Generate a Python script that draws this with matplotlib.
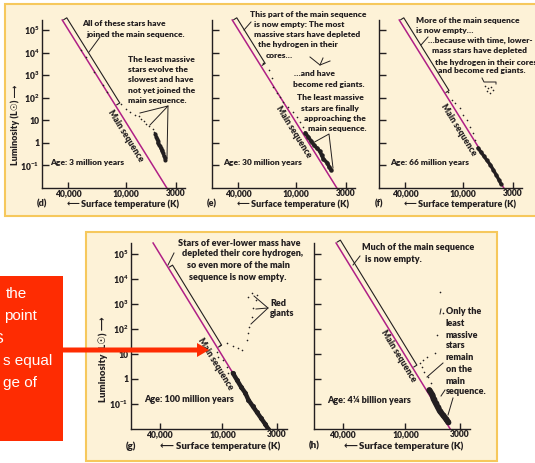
import matplotlib
matplotlib.use('Agg')
import matplotlib.pyplot as plt
import numpy as np
from matplotlib.patches import Rectangle, FancyArrow

plt.rcParams['font.family'] = ['Lato', 'DejaVu Sans']
plt.rcParams['font.weight'] = 800
plt.rcParams['mathtext.fontset'] = 'custom'
plt.rcParams['mathtext.rm'] = 'Lato:weight=800'
plt.rcParams['mathtext.it'] = 'Lato:weight=800'
plt.rcParams['mathtext.bf'] = 'Lato:weight=800'

# ticks
temp_ticks = [40000, 10000, 3000]
temp_labels = ['40,000', '10,000', '3000']
lum_ticks = [5, 4, 3, 2, 1, 0, -1]
lum_labels = ['$10^5$', '$10^4$', '$10^3$', '$10^2$', '10', '1', '$10^{-1}$']

# main sequence (log T, log L)
ms_logT = [4.665, 3.57]
ms_logL = [5.44, -2.0]

# (d) 3 million years
d_ms_logT = [4.47, 4.42, 4.33, 4.24, 4.20]
d_ms_logL = [4.11, 3.80, 3.14, 2.56, 2.25]
d_pre_logT = [4.05, 4.00, 3.96, 3.90, 3.86, 3.84, 3.81, 3.79, 3.76, 3.72, 3.70]
d_pre_logL = [1.72, 1.50, 1.37, 1.23, 1.19, 1.06, 0.97, 0.83, 0.75, 0.61, 0.48]
d_clump_logT = [3.69, 3.68, 3.67, 3.66, 3.665, 3.65, 3.64, 3.635, 3.625, 3.62, 3.61, 3.60, 3.59, 3.585]
d_clump_logL = [0.39, 0.26, 0.17, 0.08, -0.01, -0.10, -0.14, -0.23, -0.32, -0.36, -0.45, -0.58, -0.67, -0.76]

# (e) 30 million years
e_off_logT = [4.34, 4.28, 4.25, 4.24, 4.20, 4.17, 4.13, 4.08, 4.03, 3.99, 3.96, 3.92]
e_off_logL = [3.54, 3.23, 2.87, 2.47, 2.21, 2.03, 1.81, 1.59, 1.37, 1.14, 0.92, 0.70]
e_clump_logT = [3.90, 3.87, 3.84, 3.81, 3.78, 3.75, 3.73, 3.71, 3.67, 3.65, 3.63]
e_clump_logL = [0.44, 0.26, 0.08, -0.10, -0.23, -0.36, -0.54, -0.72, -0.89, -1.07, -1.20]

# (f) 66 million years
f_off_logT = [4.15, 4.11, 4.08, 4.03, 4.00, 3.96, 3.92, 3.89, 3.87]
f_off_logL = [2.25, 1.90, 1.76, 1.54, 1.23, 1.01, 0.70, 0.44, 0.13]
f_rg_logT = [3.77, 3.74, 3.70, 3.68, 3.75, 3.71]
f_rg_logL = [2.52, 2.43, 2.47, 2.34, 2.30, 2.21]
f_clump_logT = [3.84, 3.81, 3.78, 3.75, 3.71, 3.68, 3.65, 3.62, 3.60]
f_clump_logL = [-0.23, -0.41, -0.58, -0.76, -0.98, -1.20, -1.42, -1.65, -1.82]

# (g) 100 million years
g_off_logT = [4.05, 4.04, 3.99, 3.96, 3.95]
g_off_logL = [1.08, 0.88, 0.76, 0.48, 0.24]
g_rg_logT = [4.02, 3.96, 3.90, 3.85, 3.81, 3.76, 3.75, 3.74, 3.72, 3.71, 3.68, 3.67, 3.75, 3.72]
g_rg_logL = [1.36, 1.44, 1.32, 1.24, 1.16, 1.56, 1.84, 2.08, 2.48, 2.84, 3.16, 3.36, 3.28, 3.44]
g_clump_logT = [3.90, 3.86, 3.82, 3.78, 3.75, 3.71, 3.67, 3.63, 3.59, 3.56]
g_clump_logL = [0.24, -0.04, -0.32, -0.56, -0.84, -1.08, -1.32, -1.56, -1.80, -2.0]

# (h) 4 1/4 billion years
h_off_logT = [3.67, 3.64, 3.70, 3.72, 3.79, 3.83, 3.86, 3.84, 3.82, 3.78, 3.75]
h_off_logL = [3.48, 2.64, 1.76, 1.04, 0.88, 0.76, 0.64, 0.48, 0.28, 0.08, -0.16]
h_clump_logT = [3.77, 3.74, 3.73, 3.71, 3.69, 3.67, 3.64, 3.61, 3.59]
h_clump_logL = [-0.44, -0.64, -0.80, -0.96, -1.12, -1.28, -1.44, -1.60, -1.72]

MAG = '#b01f86'
INK = '#231f20'
W, H = 535, 463

fig = plt.figure(figsize=(W / 100, H / 100), dpi=100)
fig.patch.set_facecolor('white')

# background boxes (pixel coordinates)
bg = fig.add_axes([0, 0, 1, 1], zorder=-1)
bg.set_xlim(0, W)
bg.set_ylim(H, 0)
bg.axis('off')
bg.add_patch(Rectangle((5, 4), 545, 212, facecolor='#fdf2d7', edgecolor='#f6c85c', lw=1.5))
bg.add_patch(Rectangle((86, 232), 411, 229, facecolor='#fdf2d7', edgecolor='#f6c85c', lw=1.5))


def ms_point(logL):
    return np.interp(logL, ms_logL[::-1], ms_logT[::-1])


def panel(x0, top, w, h, ylabels):
    ax = fig.add_axes([x0 / W, 1 - (top + h) / H, w / W, h / H], zorder=1)
    ax.set_facecolor('none')
    ax.set_xlim(4.877, 3.38)
    ax.set_ylim(-2.0, 5.44)
    for s in ['top', 'right']:
        ax.spines[s].set_visible(False)
    for s in ['left', 'bottom']:
        ax.spines[s].set_linewidth(1.0)
        ax.spines[s].set_color(INK)
    ax.set_xticks(np.log10(temp_ticks))
    ax.set_xticklabels(temp_labels)
    ax.set_yticks(lum_ticks)
    ax.set_yticklabels(lum_labels if ylabels else [])
    ax.tick_params(axis='y', direction='in', length=5, width=1, pad=2, labelsize=6.2, colors=INK)
    ax.tick_params(axis='x', direction='in', length=4, width=1, pad=1, labelsize=6.2, colors=INK)
    ax.plot(ms_logT, ms_logL, color=MAG, lw=1.1, zorder=2, clip_on=False)
    return ax


def bracket(ax, L1, L2, off=5.0):
    p = ax.transData.transform([(ms_point(L1), L1), (ms_point(L2), L2)])
    d = p[1] - p[0]
    d = d / np.hypot(*d)
    n = np.array([-d[1], d[0]])
    pts = np.array([p[0] + n * 1.5, p[0] + n * off, p[1] + n * off, p[1] + n * 1.5])
    q = ax.transData.inverted().transform(pts)
    ax.plot(q[:, 0], q[:, 1], color=INK, lw=0.8, clip_on=False, zorder=3)


def ms_label(ax, logL, off):
    p = ax.transData.transform([(ms_point(5), 5), (ms_point(-1), -1)])
    d = p[1] - p[0]
    ang = np.degrees(np.arctan2(d[1], d[0]))
    d = d / np.hypot(*d)
    n = np.array([-d[1], d[0]])
    o = -n * off * 0.72
    ax.annotate('Main sequence', xy=(ms_point(logL), logL), xytext=(o[0], o[1]),
                textcoords='offset points', rotation=ang, rotation_mode='anchor',
                ha='center', va='center', fontsize=6.2, color=INK)


def dots(ax, T, L):
    ax.scatter(T, L, s=1.4, color=INK, lw=0, zorder=3, clip_on=False)


def clump(ax, T, L, lw):
    ax.plot(T, L, color=INK, lw=lw, solid_capstyle='round', solid_joinstyle='round', zorder=4)
    ax.scatter(T, L, s=lw * 4, color=INK, lw=0, zorder=4)


ax_d = panel(42, 20, 143, 168, True)
ax_e = panel(212, 20, 143, 168, False)
ax_f = panel(379, 20, 143, 168, False)
ax_g = panel(131, 243, 156, 186, True)
ax_h = panel(314, 243, 156, 186, False)

dots(ax_d, d_ms_logT, d_ms_logL)
dots(ax_d, d_pre_logT, d_pre_logL)
clump(ax_d, d_clump_logT, d_clump_logL, 2.2)
bracket(ax_d, 5.42, 1.65)
ms_label(ax_d, 0.48, 7.5)

dots(ax_e, e_off_logT, e_off_logL)
clump(ax_e, e_clump_logT, e_clump_logL, 2.6)
bracket(ax_e, 5.42, 3.40)
ms_label(ax_e, 0.66, 7.5)

dots(ax_f, f_off_logT, f_off_logL)
dots(ax_f, f_rg_logT, f_rg_logL)
clump(ax_f, f_clump_logT, f_clump_logL, 2.4)
bracket(ax_f, 5.42, 2.2)
ms_label(ax_f, 0.75, 7.5)

dots(ax_g, g_off_logT, g_off_logL)
dots(ax_g, g_rg_logT, g_rg_logL)
clump(ax_g, g_clump_logT, g_clump_logL, 3.2)
bracket(ax_g, 4.45, 1.25)
ms_label(ax_g, 0.80, 10)

dots(ax_h, h_off_logT, h_off_logL)
clump(ax_h, h_clump_logT, h_clump_logL, 4.2)
bracket(ax_h, 5.45, 0.45)
ms_label(ax_h, 1.04, 6.5)

# overlay for annotations (pixel coordinates)
ov = fig.add_axes([0, 0, 1, 1], zorder=5)
ov.set_xlim(0, W)
ov.set_ylim(H, 0)
ov.axis('off')
ov.set_facecolor('none')

notes_top = [
    ('All of these stars have', 82, 23), ('joined the main sequence.', 86, 34),
    ('The least massive', 128, 59), ('stars evolve the', 128, 70), ('slowest and have', 128, 80),
    ('not yet joined the', 128, 91), ('main sequence.', 128, 101),
    ('This part of the main sequence', 250, 15), ('is now empty: The most', 254, 25),
    ('massive stars have depleted', 254, 35), ('the hydrogen in their', 258, 45), ('cores\u2026', 266, 55),
    ('\u2026and have', 294, 73), ('become red giants.', 293, 84),
    ('The least massive', 297, 98), ('stars are finally', 301, 108), ('approaching the', 304, 119),
    ('main sequence.', 308, 128),
    ('More of the main sequence', 416, 20), ('is now empty\u2026', 416, 30),
    ('\u2026because with time, lower-', 428, 40), ('mass stars have depleted', 432, 51),
    ('the hydrogen in their cores', 435, 62), ('and become red giants.', 438, 71),
    ('Age: 3 million years', 50, 163), ('Age: 30 million years', 223, 163), ('Age: 66 million years', 390, 163),
]
for s, x, y in notes_top:
    ov.text(x, y, s, ha='left', va='center', fontsize=6.05, color=INK)

notes_bottom = [
    ('Red', 270, 303), ('giants', 270, 314),
    ('Much of the main sequence', 362, 247), ('is now empty.', 365, 259),
    ('Only the', 446, 312), ('least', 446, 323), ('massive', 446, 335), ('stars', 446, 346),
    ('remain', 446, 357), ('on the', 446, 369), ('main', 446, 381), ('sequence.', 446, 392),
    ('Age: 100 million years', 144, 400), ('Age: 4\u00bc billion years', 327, 400),
]
for s, x, y in notes_bottom:
    ov.text(x, y, s, ha='left', va='center', fontsize=6.5, color=INK)

for s, x, y in [('Stars of ever-lower mass have', 239, 243), ('depleted their core hydrogen,', 243, 254),
                ('so even more of the main', 238, 266), ('sequence is now empty.', 238, 277)]:
    ov.text(x, y, s, ha='center', va='center', fontsize=6.5, color=INK)

# leader lines
leaders = [
    [(89, 52), (100, 37)],
    [(140, 113), (168, 106), (150, 125)], [(168, 106), (167, 158)],
    [(244, 30), (251, 22)],
    [(310, 57), (320, 65), (330, 61)], [(320, 65), (323, 58)],
    [(311, 144), (329, 134), (333, 168)],
    [(421, 45), (428, 37)],
    [(482, 78), (484, 82), (496, 82), (496, 84)],
    [(168, 265), (174, 253)],
    [(254, 296), (268, 308), (251, 324)], [(268, 308), (256, 309)],
    [(353, 265), (360, 256)],
    [(441, 309), (440, 314)],
    [(443, 363), (427, 377)], [(445, 390), (441, 396)], [(453, 398), (448, 415)],
]
for seg in leaders:
    xs, ys = zip(*seg)
    ov.plot(xs, ys, color=INK, lw=0.7)

# axis captions
for x0, y, lab in [(42, 204, '(d)'), (212, 204, '(e)'), (379, 204, '(f)')]:
    ov.text(x0, y, lab, ha='center', va='center', fontsize=6.5, color=INK)
    ov.text(x0 + 37, y, '\u27f5', ha='right', va='center', fontsize=6.5, family='DejaVu Sans', color=INK)
    ov.text(x0 + 39, y, 'Surface temperature (K)', ha='left', va='center', fontsize=6.5, color=INK)
for x0, y, lab in [(131, 446, '(g)'), (314, 446, '(h)')]:
    ov.text(x0, y, lab, ha='center', va='center', fontsize=7, color=INK)
    ov.text(x0 + 43, y, '\u27f5', ha='right', va='center', fontsize=7, family='DejaVu Sans', color=INK)
    ov.text(x0 + 45, y, 'Surface temperature (K)', ha='left', va='center', fontsize=6.9, color=INK)
for x, ymid, fs in [(15, 125, 6.5), (103, 359, 6.9)]:
    ov.text(x, ymid, 'Luminosity (L\u2609) \u27f6', rotation=90, ha='center', va='center',
            fontsize=fs, color=INK)

# red call-out box
RED = '#fe2c02'
ov.add_patch(Rectangle((0, 276), 63, 165, facecolor=RED, edgecolor='none', zorder=8))
for s, x, y in [('the', 27, 298), ('point', 37, 320), ('MS', 5, 343), ('s equal', 52, 365), ('ge of', 37, 387)]:
    ov.text(x, y, s, ha='right', va='baseline', fontsize=11, color='white',
            family='Liberation Sans', fontweight='normal', zorder=9)
ov.add_patch(FancyArrow(63, 350, 146, 0, width=5, head_width=14, head_length=12,
                        length_includes_head=True, color=RED, lw=0, zorder=10))

fig.savefig('out.png', dpi=100)
